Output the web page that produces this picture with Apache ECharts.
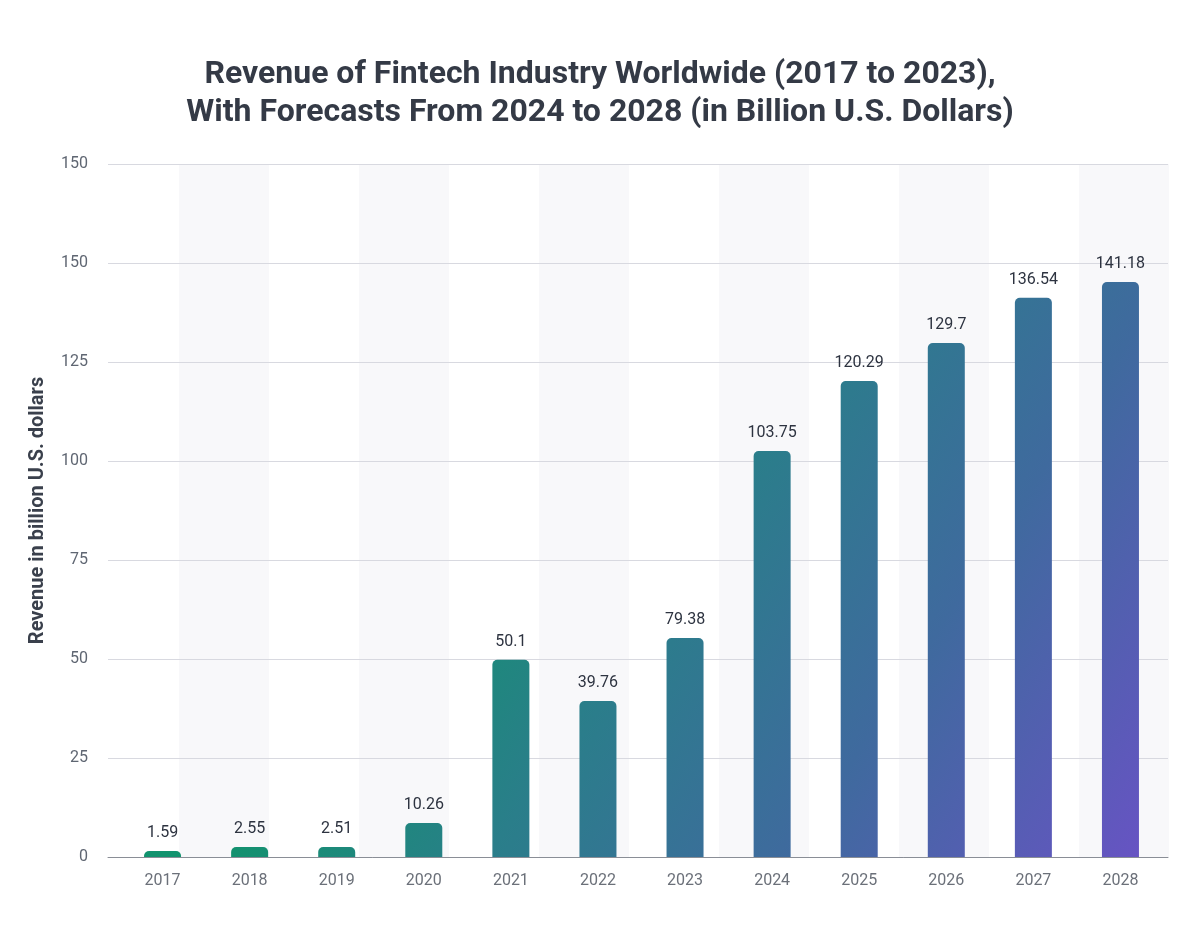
<!DOCTYPE html>
<html>
<head>
<meta charset="utf-8">
<script src="https://cdn.jsdelivr.net/npm/echarts@6/dist/echarts.min.js"></script>
<style>html,body{margin:0;padding:0;background:#fff}#chart{width:1200px;height:936px}</style>
</head>
<body>
<div id="chart"></div>
<script>
const titleLines = ['Revenue of Fintech Industry Worldwide (2017 to 2023),', 'With Forecasts From 2024 to 2028 (in Billion U.S. Dollars)'];
const yAxisName = 'Revenue in billion U.S. dollars';
const categories = ['2017','2018','2019','2020','2021','2022','2023','2024','2025','2026','2027','2028'];
// bar heights as drawn in the picture
const barValues = [1.5, 2.5, 2.5, 8.6, 49.8, 39.4, 55.3, 102.5, 120.2, 129.8, 141.2, 145.2];
// value labels as printed in the picture
const labelTexts = ['1.59','2.55','2.51','10.26','50.1','39.76','79.38','103.75','120.29','129.7','136.54','141.18'];
const yTickLabels = {0:'0',25:'25',50:'50',75:'75',100:'100',125:'125',150:'150',175:'150'};

const chart = echarts.init(document.getElementById('chart'));
const grad = new echarts.graphic.LinearGradient(108, 164, 1168, 857, [
  {offset: 0, color: '#0a9e68'},
  {offset: 0.38, color: '#13916f'},
  {offset: 0.55, color: '#2a7e8a'},
  {offset: 0.75, color: '#3f6a9e'},
  {offset: 1, color: '#6a52c6'}
], true);

chart.setOption({
  animation: false,
  textStyle: {fontFamily: 'Roboto'},
  title: {
    text: titleLines.join('\n'),
    left: 'center',
    top: 51,
    textStyle: {fontFamily: 'Roboto', fontWeight: 'bold', fontSize: 32, lineHeight: 38, color: '#343a46'}
  },
  grid: [
    {left: 119, right: 36, top: 164, bottom: 79},   // bars
    {left: 108, right: 32, top: 164, bottom: 79},   // axes + grid lines
    {left: 89, right: 31, top: 164, bottom: 79}     // background bands
  ],
  xAxis: [
    {
      gridIndex: 0, type: 'category', data: categories, z: 3,
      axisLine: {show: false}, axisTick: {show: false},
      axisLabel: {color: '#6b7079', fontSize: 16, margin: 16}
    },
    {
      gridIndex: 1, type: 'category', data: categories, z: 2,
      axisLine: {lineStyle: {color: '#8a8e96', width: 1}},
      axisTick: {show: false}, axisLabel: {show: false}
    },
    {
      gridIndex: 2, type: 'category', data: categories, z: 0,
      axisLine: {show: false}, axisTick: {show: false}, axisLabel: {show: false},
      splitArea: {show: true, areaStyle: {color: ['rgba(255,255,255,0)', '#f8f8fa']}}
    }
  ],
  yAxis: [
    {
      gridIndex: 0, type: 'value', min: 0, max: 175, interval: 25,
      axisLine: {show: false}, axisTick: {show: false}, axisLabel: {show: false}, splitLine: {show: false}
    },
    {
      gridIndex: 1, type: 'value', min: 0, max: 175, interval: 25, z: 1,
      name: yAxisName,
      nameLocation: 'middle',
      nameGap: 60,
      nameTextStyle: {fontFamily: 'Roboto', fontWeight: 'bold', fontSize: 20, color: '#3a404c'},
      axisLine: {show: false},
      axisTick: {show: false},
      axisLabel: {color: '#5f6672', fontSize: 16, margin: 20, formatter: v => yTickLabels[v]},
      splitLine: {lineStyle: {color: '#d8d9e0'}}
    },
    {
      gridIndex: 2, type: 'value', min: 0, max: 175, interval: 25, z: 0,
      axisLine: {show: false}, axisTick: {show: false}, axisLabel: {show: false}, splitLine: {show: false}
    }
  ],
  series: [{
    type: 'bar',
    xAxisIndex: 0, yAxisIndex: 0,
    data: barValues,
    barWidth: 37,
    z: 5,
    itemStyle: {color: grad, borderRadius: [5, 5, 0, 0]},
    label: {
      show: true, position: 'top', distance: 10,
      color: '#2d3340', fontSize: 16,
      formatter: p => labelTexts[p.dataIndex]
    }
  }]
});
</script>
</body>
</html>
